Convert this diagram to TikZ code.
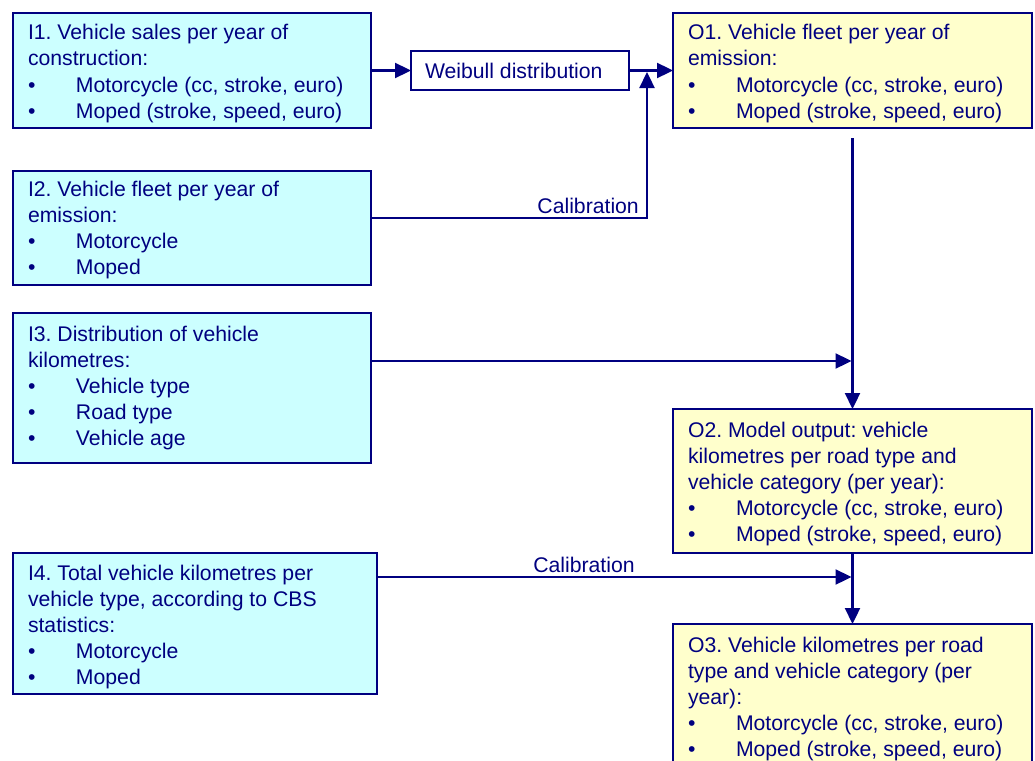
\documentclass[tikz,border=0pt]{standalone}
\usepackage{fontspec}
\setmainfont{Liberation Sans}
\usetikzlibrary{arrows.meta,calc}
\definecolor{navy}{RGB}{0,0,128}
\definecolor{incyan}{RGB}{204,255,255}
\definecolor{outyellow}{RGB}{255,255,204}
\frenchspacing
\newcommand{\boxtext}[5]{\parbox[t][#2][t]{#1}{\frenchspacing\raggedright\leftskip=#3\relax\parindent=0pt\rule{0pt}{#4}#5}}
\newcommand{\itm}{\makebox[48pt][l]{\textbullet}}
\begin{document}
\begin{tikzpicture}[x=1pt,y=1pt,
  every node/.style={font=\fontsize{21.2}{26}\selectfont, text=navy},
  ibox/.style={draw=navy, line width=2pt, fill=incyan, inner sep=0pt, outer sep=0pt, anchor=north west, rectangle},
  obox/.style={ibox, fill=outyellow},
  wbox/.style={ibox, fill=white},
  conn/.style={draw=navy, line width=2.3pt, -{Triangle[length=16pt,width=15pt]}},
  lbl/.style={inner sep=0pt, anchor=base}]
\useasboundingbox (0,0) rectangle (1035,-760);
\clip (0,0) rectangle (1035,-760);
\node[ibox] (I1) at (13,-13) {\boxtext{358pt}{115pt}{15pt}{27pt}{I1. Vehicle sales per year of\\construction:\\\itm Motorcycle (cc, stroke, euro)\\\itm Moped (stroke, speed, euro)}};
\node[ibox] (I2) at (13,-171) {\boxtext{358pt}{114pt}{15pt}{25pt}{I2. Vehicle fleet per year of\\emission:\\\itm Motorcycle\\\itm Moped}};
\node[ibox] (I3) at (13,-313) {\boxtext{358pt}{150pt}{15pt}{28pt}{I3. Distribution of vehicle\\kilometres:\\\itm Vehicle type\\\itm Road type\\\itm Vehicle age}};
\node[ibox] (I4) at (13,-553) {\boxtext{364pt}{141pt}{15pt}{27pt}{I4. Total vehicle kilometres per\\vehicle type, according to CBS\\statistics:\\\itm Motorcycle\\\itm Moped}};
\node[wbox] (W) at (411,-51) {\boxtext{218pt}{39pt}{14pt}{27pt}{Weibull distribution}};
\node[obox] (O1) at (673,-13) {\boxtext{359pt}{115pt}{15pt}{27pt}{O1. Vehicle fleet per year of\\emission:\\\itm Motorcycle (cc, stroke, euro)\\\itm Moped (stroke, speed, euro)}};
\node[obox] (O2) at (673,-409) {\boxtext{359pt}{144pt}{15pt}{28pt}{O2. Model output: vehicle\\kilometres per road type and\\vehicle category (per year):\\\itm Motorcycle (cc, stroke, euro)\\\itm Moped (stroke, speed, euro)}};
\node[obox] (O3) at (673,-624) {\boxtext{359pt}{160pt}{15pt}{28pt}{O3. Vehicle kilometres per road\\type and vehicle category (per\\year):\\\itm Motorcycle (cc, stroke, euro)\\\itm Moped (stroke, speed, euro)}};
\draw[conn] (I1.east) -- (W.west);
\draw[conn] (W.east) -- (O1.west);
\coordinate (m1) at (647,-72);
\draw[conn] ([yshift=10pt]I2.east) -| (m1);
\node[lbl, anchor=base east] (cal1) at (639,-213) {Calibration};
\draw[conn] ([yshift=-10pt]O1.south) -- (O2.north);
\coordinate (m2) at (851.5,-361);
\draw[conn] ([yshift=27pt]I3.east) -- (m2);
\draw[conn] (O2.south) -- (O3.north);
\coordinate (m3) at (851.5,-577);
\draw[conn] ([yshift=46.5pt]I4.east) -- (m3);
\node[lbl] (cal2) at (584,-572) {Calibration};
\end{tikzpicture}
\end{document}
